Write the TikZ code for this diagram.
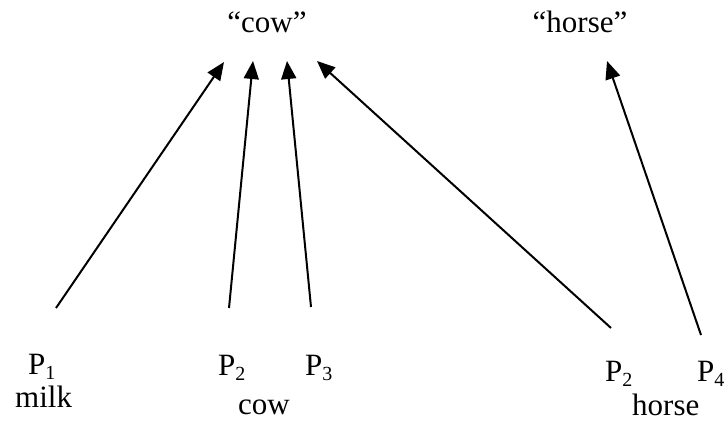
\documentclass[tikz,border=0pt]{standalone}
\usepackage{fontspec}
\setmainfont{Liberation Serif}
\usetikzlibrary{arrows.meta}
\newcommand\mysub[1]{\raisebox{-0.17em}{\fontsize{20}{20}\selectfont #1}}
\begin{document}
\begin{tikzpicture}[x=1pt,y=-1pt,
  lbl/.style={inner sep=0pt,anchor=base west,font=\fontsize{31}{37}\selectfont},
  toplbl/.style={inner sep=0pt,anchor=base,font=\fontsize{31}{37}\selectfont},
  arr/.style={line width=2pt,-{Triangle[length=18pt,width=15pt]}}]
\useasboundingbox (0,0) rectangle (727,421);
\node[toplbl] (cow) at (267,32) {“cow”};
\node[toplbl] (horse) at (580,32) {“horse”};
\node[lbl] (p1) at (28,374) {P\mysub{1}};
\node[lbl] (milk) at (15,407) {milk};
\node[lbl] (p2) at (218,375) {P\mysub{2}};
\node[lbl] (p3) at (305,375) {P\mysub{3}};
\node[lbl] (cowb) at (238,414) {cow};
\node[lbl] (p2h) at (605,381) {P\mysub{2}};
\node[lbl] (p4) at (697,381) {P\mysub{4}};
\node[lbl] (horseb) at (632,415) {horse};
\coordinate (t1) at (56,308);
\coordinate (t2) at (229,308);
\coordinate (t3) at (311,307);
\coordinate (t4) at (611,328);
\coordinate (t5) at (701,335);
\coordinate (h1) at (224,62);
\coordinate (h2) at (253,61);
\coordinate (h3) at (287,61);
\coordinate (h4) at (317,61);
\coordinate (h5) at (607,61);
\draw[arr] (t1) -- (h1);
\draw[arr] (t2) -- (h2);
\draw[arr] (t3) -- (h3);
\draw[arr] (t4) -- (h4);
\draw[arr] (t5) -- (h5);
\end{tikzpicture}
\end{document}
